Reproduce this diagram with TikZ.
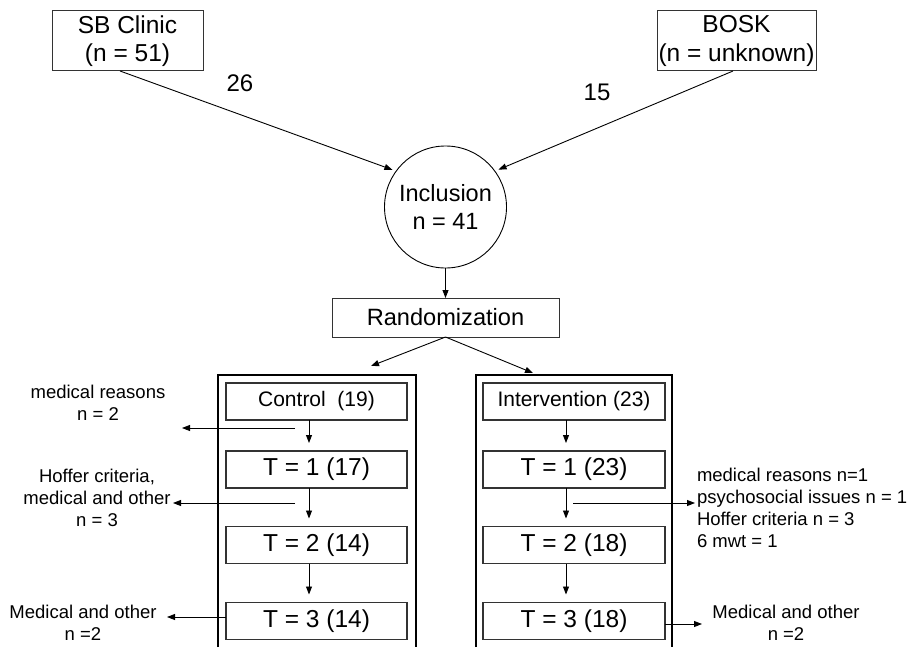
\documentclass[tikz,border=0pt]{standalone}
\usepackage{fontspec}
\setmainfont{Liberation Sans}
\usetikzlibrary{arrows.meta,calc}
\begin{document}
\begin{tikzpicture}[x=1pt,y=-1pt,
  every node/.style={inner sep=0pt,outer sep=0pt},
  arr/.style={draw=black,line width=0.9pt,-{Triangle[length=8pt,width=6pt]}},
  srcbox/.style={draw=black!80,line width=1pt,rectangle,minimum width=151pt,minimum height=60pt,align=center,font=\fontsize{24.5}{28.5}\selectfont},
  stepbox/.style={draw=black!80,line width=1.2pt,rectangle,minimum width=181pt,minimum height=37pt,font=\fontsize{24.5}{28}\selectfont},
  frame/.style={draw=black,line width=1.2pt},
  note/.style={align=center,font=\fontsize{18.5}{22}\selectfont},
  count/.style={font=\fontsize{24}{28}\selectfont}]
\useasboundingbox (0,0) rectangle (909,647);
\fill[white] (0,0) rectangle (909,647);

% sources
\node[srcbox] (sb) at (127.5,41) {SB Clinic\\(n = 51)};
\node[srcbox,minimum width=159pt] (bosk) at (736.5,41) {BOSK\\(n = unknown)};
\node[circle,draw=black,line width=0.9pt,minimum size=122pt,align=center,font=\fontsize{23.5}{28}\selectfont] (inc) at (445.5,207) {Inclusion\\n = 41};
\node[srcbox,minimum width=227pt,minimum height=39pt,font=\fontsize{23.6}{28}\selectfont] (rand) at (445.5,317.5) {Randomization};

\node[count] (c26) at (240,83) {26};
\node[count] (c15) at (597,92) {15};

\draw[arr,shorten >=4pt] ([xshift=-7.5pt]sb.south) -- (inc.144);
\draw[arr,shorten >=4pt] ([xshift=-3.5pt]bosk.south) -- (inc.36);
\draw[arr] (inc.south) -- (rand.north);

% group frames, running off the bottom edge
\draw[frame] (218,647) |- (416,375) -- (416,647);
\draw[frame] (476,647) |- (672,375) -- (672,647);
\coordinate (ctrlin) at (371,366);
\coordinate (intin) at (533,373);
\draw[arr] (rand.south) -- (ctrlin);
\draw[arr] (rand.south) -- (intin);

% control arm
\node[stepbox,font=\fontsize{21}{25}\selectfont] (c0) at (316.5,401.5) {Control~~(19)};
\node[stepbox] (c1) at (316.5,469.5) {T = 1 (17)};
\node[stepbox] (c2) at (316.5,545) {T = 2 (14)};
\node[stepbox] (c3) at (316.5,621) {T = 3 (14)};
\foreach \a/\b in {c0/c1,c1/c2,c2/c3}
  \draw[arr] ([xshift=-7.5pt]\a.south) -- ([xshift=-7.5pt,yshift=8pt]\b.north);

% intervention arm
\node[stepbox,minimum width=182pt,font=\fontsize{21}{25}\selectfont] (i0) at (574,401.5) {Intervention (23)};
\node[stepbox,minimum width=182pt] (i1) at (574,469.5) {T = 1 (23)};
\node[stepbox,minimum width=182pt] (i2) at (574,545) {T = 2 (18)};
\node[stepbox,minimum width=182pt] (i3) at (574,621) {T = 3 (18)};
\foreach \a/\b in {i0/i1,i1/i2,i2/i3}
  \draw[arr] ([xshift=-8pt]\a.south) -- ([xshift=-8pt,yshift=8pt]\b.north);

% drop-outs, control
\node[note] (d1) at (98,403) {medical reasons\\n = 2};
\node[note] (d2) at (97,497.5) {Hoffer criteria,\\medical and other\\n = 3};
\node[note] (d3) at (83,622.5) {Medical and other\\n =2};
\coordinate (d1s) at (295,428);
\coordinate (d1e) at (182,428);
\coordinate (d2s) at (295,503);
\coordinate (d2e) at (173,503);
\coordinate (d3e) at (167,617);
\draw[arr] (d1s) -- (d1e);
\draw[arr] (d2s) -- (d2e);
\draw[arr] (c3.west |- d3e) -- (d3e);

% drop-outs, intervention
\node[note,align=left,anchor=west] (d4) at (697,508) {medical reasons n=1\\psychosocial issues n = 1\\Hoffer criteria n = 3\\6 mwt = 1};
\node[note] (d5) at (786,622.5) {Medical and other\\n =2};
\coordinate (d4s) at (573,503);
\coordinate (d4e) at (695,503);
\coordinate (d5e) at (702,624);
\draw[arr] (d4s) -- (d4e);
\draw[arr] (i3.east |- d5e) -- (d5e);
\end{tikzpicture}
\end{document}
